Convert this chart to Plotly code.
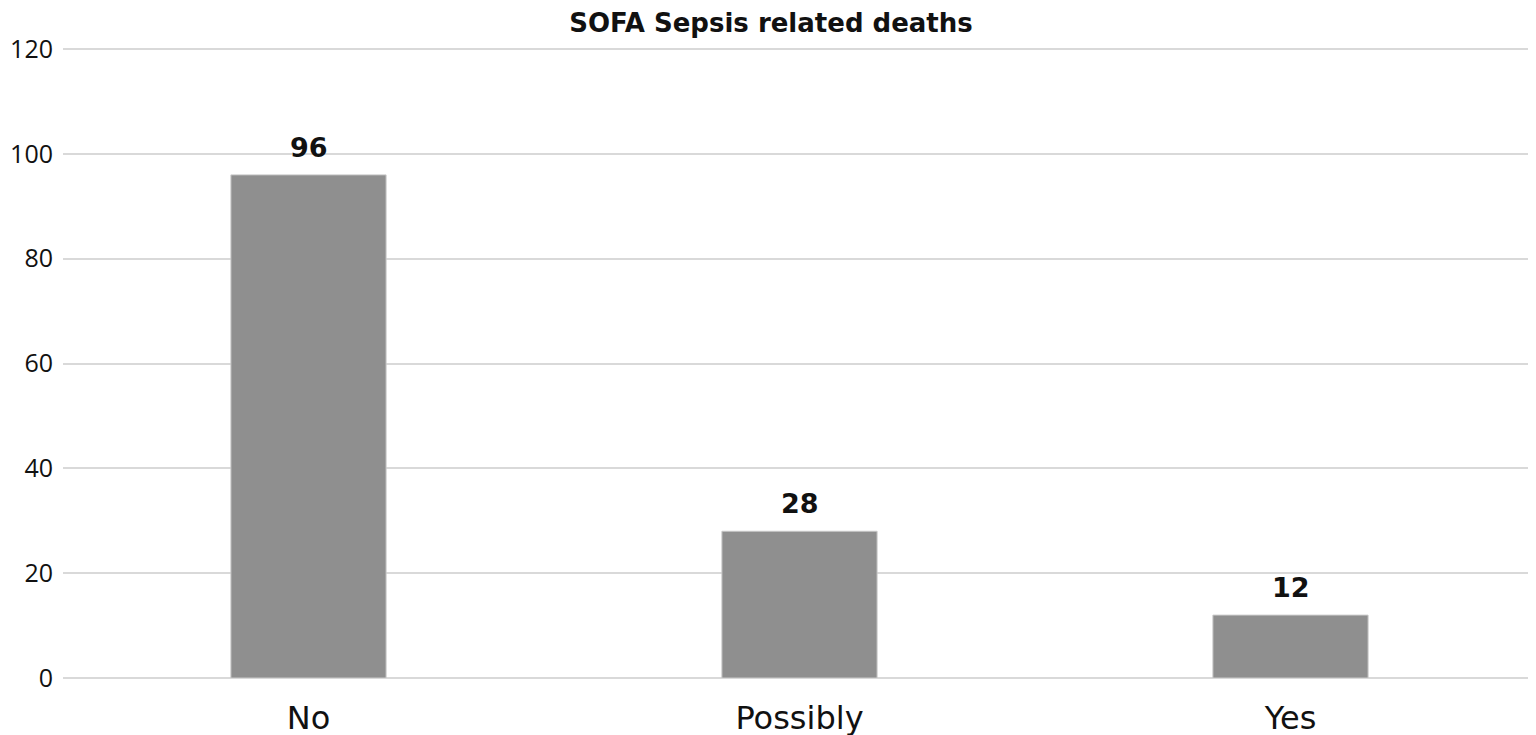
import plotly.graph_objects as go

categories = ["No", "Possibly", "Yes"]
values = [96, 28, 12]
y_ticks = [0, 20, 40, 60, 80, 100, 120]

# page body has an 8px margin; compensate so the plot area lands where the reference has it
OFF = 8
W, H = 1536, 735

fig = go.Figure(go.Bar(
    x=categories,
    y=values,
    marker=dict(color="#8f8f8f", line=dict(color="#c8c8c8", width=1)),
    hoverinfo="x+y",
))

for c, v in zip(categories, values):
    fig.add_annotation(x=c, y=v, text=f"<b>{v}</b>", showarrow=False,
                       yanchor="bottom", yshift=10,
                       font=dict(family="DejaVu Sans", size=27, color="#111111"))

fig.update_layout(
    width=W, height=H,
    margin=dict(l=63 - OFF, r=OFF, t=47 - OFF, b=H + OFF - 678),
    paper_bgcolor="white", plot_bgcolor="white",
    bargap=0.684,
    showlegend=False,
    title=dict(text="<b>SOFA Sepsis related deaths</b>", x=(771 - OFF) / W, xanchor="center",
               xref="container", y=1 - (23 - OFF) / H, yanchor="middle", yref="container",
               font=dict(family="DejaVu Sans", size=26, color="#111111")),
    xaxis=dict(showgrid=False, showline=False, ticks="", ticklabelstandoff=18,
               automargin=False,
               tickfont=dict(family="DejaVu Sans", size=32, color="#111111")),
    yaxis=dict(range=[0, 120.4], tickvals=y_ticks, showgrid=True, gridcolor="#d9d9d9",
               gridwidth=2, zeroline=True, zerolinecolor="#d9d9d9", zerolinewidth=2,
               showline=False, ticks="", ticklabelstandoff=9, automargin=False,
               tickfont=dict(family="Open Sans", size=25, color="#111111")),
)

fig.write_html("out.html")
